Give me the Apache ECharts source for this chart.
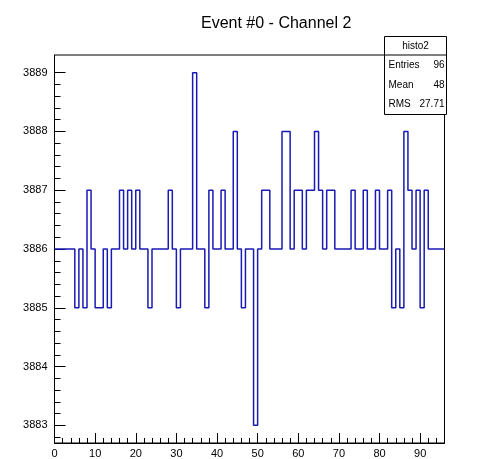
<!DOCTYPE html>
<html>
<head>
<meta charset="utf-8">
<script src="https://cdn.jsdelivr.net/npm/echarts@6/dist/echarts.min.js"></script>
<style>
  html, body { margin: 0; padding: 0; background: #ffffff; }
  #chart { width: 478px; height: 459px; }
</style>
</head>
<body>
<div id="chart"></div>
<script>
// Bin contents of histo2 (96 bins, each one unit wide, starting at 0)
const binValues = [
  3886, 3886, 3886, 3886, 3886, 3885, 3886, 3885, 3887, 3886,
  3885, 3885, 3886, 3885, 3886, 3886, 3887, 3886, 3887, 3886,
  3887, 3886, 3886, 3885, 3886, 3886, 3886, 3886, 3887, 3886,
  3885, 3886, 3886, 3886, 3889, 3886, 3886, 3885, 3887, 3886,
  3886, 3887, 3886, 3886, 3888, 3886, 3885, 3886, 3886, 3883,
  3886, 3887, 3887, 3886, 3886, 3886, 3888, 3888, 3886, 3887,
  3887, 3886, 3887, 3887, 3888, 3887, 3886, 3887, 3887, 3886,
  3886, 3886, 3886, 3887, 3886, 3886, 3887, 3886, 3886, 3887,
  3886, 3886, 3887, 3885, 3886, 3885, 3888, 3887, 3886, 3887,
  3885, 3887, 3886, 3886, 3886, 3886
];

const xMajorTicks = [0, 10, 20, 30, 40, 50, 60, 70, 80, 90];
const yMajorTicks = [3883, 3884, 3885, 3886, 3887, 3888, 3889];
const xRange = [0, 96];
const yRange = [3882.7, 3889.3];

const titleText = 'Event #0 - Channel 2';
const statsName = 'histo2';
const statsLabels = ['Entries', 'Mean', 'RMS'];
const statsValues = ['96', '48', '27.71'];

// minor tick positions: x every 2 units, y every 0.2 units
const xMinorTicks = [];
for (let v = 0; v <= xRange[1]; v += 2) xMinorTicks.push(v);
const yMinorTicks = [];
for (let k = 1; k < 33; k++) yMinorTicks.push(+(yRange[0] + 0.1 + 0.2 * k - 0.2).toFixed(1));

// step outline: each bin starts at its low edge, the last one closes at the upper edge
const stepData = binValues.map((v, i) => [i, v]);
stepData.push([binValues.length, binValues[binValues.length - 1]]);

const FONT = 'Liberation Sans, Arial, Helvetica, sans-serif';
const plain = v => String(v);
const chart = echarts.init(document.getElementById('chart'), null, { renderer: 'canvas' });

const baseX = {
  type: 'value', min: xRange[0], max: xRange[1], position: 'bottom',
  splitLine: { show: false }
};
const baseY = {
  type: 'value', min: yRange[0], max: yRange[1], position: 'left',
  splitLine: { show: false }
};

// stats box geometry
const box = { x: 384.5, y: 36.5, w: 62, h: 78, head: 18.5 };
const statsGraphics = [
  { type: 'rect', shape: { x: box.x, y: box.y, width: box.w, height: box.h },
    style: { fill: '#ffffff', stroke: '#000000', lineWidth: 1 }, z: 100 },
  { type: 'line', shape: { x1: box.x, y1: box.y + box.head, x2: box.x + box.w, y2: box.y + box.head },
    style: { stroke: '#000000', lineWidth: 1 }, z: 101 },
  { type: 'text', x: box.x + box.w / 2, y: box.y + box.head / 2 + 0.5, z: 101,
    style: { text: statsName, fill: '#000', font: '10px ' + FONT, align: 'center', verticalAlign: 'middle' } }
];
statsLabels.forEach((lab, i) => {
  const yy = box.y + box.head + 10.5 + i * 19.5;
  statsGraphics.push({ type: 'text', x: box.x + 4, y: yy, z: 101,
    style: { text: lab, fill: '#000', font: '10px ' + FONT, align: 'left', verticalAlign: 'middle' } });
  statsGraphics.push({ type: 'text', x: box.x + box.w - 2, y: yy, z: 101,
    style: { text: statsValues[i], fill: '#000', font: '10px ' + FONT, align: 'right', verticalAlign: 'middle' } });
});

chart.setOption({
  animation: false,
  backgroundColor: '#ffffff',
  title: {
    text: titleText, left: 196, top: 11,
    textStyle: { fontFamily: FONT, fontSize: 16, fontWeight: 'normal', color: '#000000' }
  },
  grid: {
    left: 54.5, top: 55, width: 390, height: 389,
    show: true, borderColor: '#000000', borderWidth: 1, backgroundColor: 'transparent',
    containLabel: false
  },
  xAxis: [
    Object.assign({}, baseX, {
      axisLine: { show: true, lineStyle: { color: '#000000', width: 1 } },
      axisTick: { show: true, inside: true, length: 10, customValues: xMajorTicks,
                  lineStyle: { color: '#000000', width: 1 } },
      axisLabel: { show: true, customValues: xMajorTicks, margin: 5, fontSize: 11,
                   fontFamily: FONT, color: '#000000', formatter: plain }
    }),
    Object.assign({}, baseX, {
      axisLine: { show: false },
      axisTick: { show: true, inside: true, length: 5, customValues: xMinorTicks,
                  lineStyle: { color: '#000000', width: 1 } },
      axisLabel: { show: false }
    })
  ],
  yAxis: [
    Object.assign({}, baseY, {
      axisLine: { show: true, lineStyle: { color: '#000000', width: 1 } },
      axisTick: { show: true, inside: true, length: 11, customValues: yMajorTicks,
                  lineStyle: { color: '#000000', width: 1 } },
      axisLabel: { show: true, customValues: yMajorTicks, margin: 7, fontSize: 11,
                   fontFamily: FONT, color: '#000000', formatter: plain }
    }),
    Object.assign({}, baseY, {
      axisLine: { show: false },
      axisTick: { show: true, inside: true, length: 6, customValues: yMinorTicks,
                  lineStyle: { color: '#000000', width: 1 } },
      axisLabel: { show: false }
    })
  ],
  series: [{
    name: statsName,
    type: 'line',
    xAxisIndex: 0, yAxisIndex: 0,
    step: 'end',
    showSymbol: false, symbol: 'none',
    lineStyle: { color: '#1a1ab4', width: 1.5 },
    data: stepData,
    z: 5
  }],
  graphic: statsGraphics
});
</script>
</body>
</html>
